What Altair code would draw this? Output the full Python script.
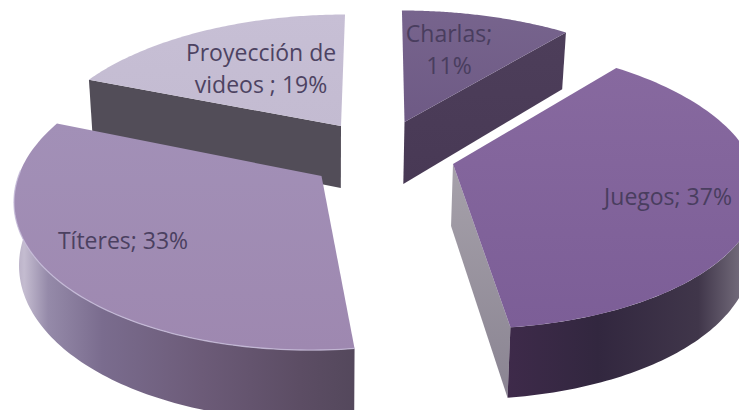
import math
import altair as alt

categories = ["Charlas", "Juegos", "Títeres", "Proyección de videos"]
shares = [11, 37, 33, 19]
label_lines = [["Charlas;", "11%"], ["Juegos; 37%"], ["Títeres; 33%"], ["Proyección de", "videos ; 19%"]]

# apex, horizontal radius, vertical radius, perspective, shear (one per slice)
GEOM = {
    "Charlas": dict(ax=404.5, ay=122, a=300, b=136, k=0.22, sh=0.023),
    "Juegos": dict(ax=453, ay=164, a=300, b=139.5, k=0.154, sh=0.08),
    "Títeres": dict(ax=321.5, ay=176, a=303, b=149.7, k=0.14, sh=-0.064),
    "Proyección de videos": dict(ax=341, ay=126, a=295, b=136, k=0.22, sh=-0.036),
}
LABEL_OFFSET = {
    "Charlas": (44.5, -87),
    "Juegos": (215, 34),
    "Títeres": (-198.5, 66),
    "Proyección de videos": (-80, -72),
}
DEPTH, DEPTH_K, VANISH_X, CONVERGE = 62, 0.12, 330, 0.016


def top(g, t):
    xx, yy = math.sin(t), -math.cos(t)
    s = 1 / (1 - g["k"] * yy)
    dy = g["b"] * yy * s
    return [g["ax"] + g["a"] * xx * s + g["sh"] * dy, g["ay"] + dy], yy


def bottom(g, t, radial=1.0):
    xx, yy = math.sin(t) * radial, -math.cos(t) * radial
    s = 1 / (1 - g["k"] * yy)
    dy = g["b"] * yy * s
    x = g["ax"] + g["a"] * xx * s + g["sh"] * dy
    y = g["ay"] + dy
    return [x - (x - VANISH_X) * CONVERGE, y + DEPTH / (1 - DEPTH_K * yy)]


def sweep(a, b, n=90):
    return [a + (b - a) * i / n for i in range(n + 1)]


def poly(pts):
    return alt.Data(values=[{"type": "Feature", "properties": {},
                             "geometry": {"type": "Polygon", "coordinates": [pts + [pts[0]]]}}])


def line(pts):
    return alt.Data(values=[{"type": "Feature", "properties": {},
                             "geometry": {"type": "LineString", "coordinates": pts}}])


angles = {}
run = 0
for c, v in zip(categories, shares):
    angles[c] = (run / 100 * 2 * math.pi, (run + v) / 100 * 2 * math.pi)
    run += v


def top_face(c):
    g = GEOM[c]
    a0, a1 = angles[c]
    return [[g["ax"], g["ay"]]] + [top(g, t)[0] for t in sweep(a0, a1)]


def cut_face(c, t):
    g = GEOM[c]
    p, _ = top(g, t)
    return [[g["ax"], g["ay"]], p, bottom(g, t), bottom(g, t, 0.0)]


def side_face(c, a0, a1):
    g = GEOM[c]
    ts = sweep(a0, a1)
    return [top(g, t)[0] for t in ts] + [bottom(g, t) for t in reversed(ts)]


def grad(stops, vertical=False):
    return alt.LinearGradient(
        gradient="linear", x1=0, y1=0, x2=0 if vertical else 1, y2=1 if vertical else 0,
        stops=[alt.GradientStop(offset=o, color=col) for o, col in stops])


def shape(pts, fill):
    return alt.Chart(poly(pts)).mark_geoshape(fill=fill, stroke=None, strokeWidth=0)


C, J, T, P = categories
layers = [
    shape(cut_face(P, angles[P][0]), "#524d58"),
    shape(top_face(P), grad([(0, "#c7bfd5"), (1, "#c3bbd1")], True)),
    shape(cut_face(C, angles[C][1]), grad([(0, "#4d3e5a"), (1, "#483955")], True)),
    shape(top_face(C), grad([(0, "#77648d"), (1, "#6e5a85")], True)),
    shape(side_face(T, angles[T][0], math.radians(272)),
          grad([(0, "#b5abc3"), (0.03, "#c4bcd0"), (0.1, "#958aa9"), (0.26, "#7a6c8e"), (0.55, "#6c5b78"),
                (0.84, "#5c4d64"), (1, "#54485c")])),
    shape(top_face(T), grad([(0, "#a290b7"), (1, "#9e88b0")], True)),
    alt.Chart(line([top(GEOM[T], t)[0] for t in sweep(angles[T][0], math.radians(272))]))
    .mark_geoshape(filled=False, stroke="#c8bedb", strokeWidth=1.3, strokeOpacity=0.8),
    shape(cut_face(J, angles[J][1]), grad([(0, "#a6a1aa"), (1, "#8a8492")], True)),
    shape(side_face(J, angles[J][1], math.radians(85)),
          grad([(0, "#3e2a4a"), (0.36, "#32273f"), (0.76, "#40364a"), (0.9, "#6a6272"), (1, "#857d8f")])),
    shape(top_face(J), grad([(0, "#87699f"), (1, "#7c5e97")], True)),
]

labels = []
for c, ls in zip(categories, label_lines):
    g = GEOM[c]
    dx, dy = LABEL_OFFSET[c]
    labels.append({"lon": g["ax"] + dx, "lat": g["ay"] + dy, "text": "\n".join(ls)})

text = alt.Chart(alt.Data(values=labels)).mark_text(
    font="Open Sans", fontSize=23, color="#473c5c", lineBreak="\n", lineHeight=32,
    align="center", baseline="middle", opacity=0.95,
).encode(longitude="lon:Q", latitude="lat:Q", text="text:N")

chart = (
    alt.layer(*layers, text)
    .project(type="identity", scale=1, translate=[-8, -8])
    .properties(width=731, height=402, padding=0, autosize=alt.AutoSizeParams(type="none"), background="white")
    .configure_view(stroke=None)
)
chart.save("out.html", embed_options={"renderer": "svg", "actions": False})
